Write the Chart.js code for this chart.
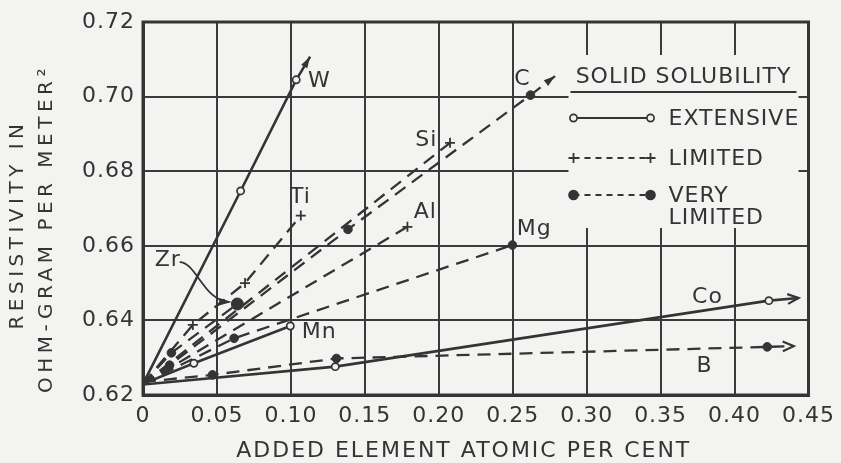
<!DOCTYPE html>
<html>
<head>
<meta charset="utf-8">
<script src="https://cdn.jsdelivr.net/npm/chart.js@4.4.0/dist/chart.umd.min.js"></script>
<style>
    html, body { margin: 0; padding: 0; background: #f3f3f1; }
    #wrap { width: 841px; height: 463px; }
</style>
</head>
<body>
<div id="wrap"><canvas id="chart" width="841" height="463"></canvas></div>
<script>
// Axis ticks
const xTickValues = [0, 0.05, 0.10, 0.15, 0.20, 0.25, 0.30, 0.35, 0.40, 0.45];
const xTickLabels = ['0', '0.05', '0.10', '0.15', '0.20', '0.25', '0.30', '0.35', '0.40', '0.45'];
const yTickValues = [0.62, 0.64, 0.66, 0.68, 0.70, 0.72];
const yTickLabels = ['0.62', '0.64', '0.66', '0.68', '0.70', '0.72'];

// Extensive solid solubility (solid lines, open circles)
const wX = [0, 0.066, 0.1036, 0.113];
const wY = [0.623, 0.6747, 0.7045, 0.7107];
const mnX = [0, 0.0344, 0.0996];
const mnY = [0.623, 0.6285, 0.6385];
const coX = [0, 0.130, 0.4232, 0.4433];
const coY = [0.6228, 0.6276, 0.6453, 0.6460];

// Limited solid solubility (dashed lines, crosses)
const tiX = [0, 0.0337, 0.069, 0.1067];
const tiY = [0.623, 0.6388, 0.650, 0.6681];
const siX = [0, 0.2076];
const siY = [0.623, 0.6876];
const alX = [0, 0.1788];
const alY = [0.623, 0.6651];

// Very limited solid solubility (dashed lines, dots)
const cX = [0, 0.018, 0.1386, 0.262, 0.2786];
const cY = [0.623, 0.628, 0.6644, 0.7004, 0.7055];
const zrX = [0, 0.0192, 0.0638];
const zrY = [0.623, 0.6313, 0.6444];
const mgX = [0, 0.0616, 0.2498];
const mgY = [0.623, 0.6352, 0.6602];
const bX = [0, 0.047, 0.1308, 0.4221, 0.44];
const bY = [0.6235, 0.6254, 0.6298, 0.6329, 0.6331];

// Colours and fonts
const BG = '#f3f3f1';
const INK = '#343434';
const FONT = '"DejaVu Sans", sans-serif';

// Where the element names sit (data units)
const elementTags = {
    W:  [0.1192, 0.7042], C:  [0.2565, 0.7047], Si: [0.1915, 0.6884],
    Ti: [0.1065, 0.6731], Al: [0.1909, 0.6691], Mg: [0.2645, 0.6644],
    Zr: [0.0167, 0.6562], Mn: [0.1192, 0.6369], Co: [0.3817, 0.6463],
    B:  [0.3797, 0.6278]
};

// Curved pointer from the Zr label to its dot (data units)
const zrPointer = [[0.0248, 0.6556], [0.0360, 0.6556], [0.0410, 0.6452], [0.0585, 0.6449]];

const kindStyles = {
    extensive: { dash: [], width: 2.6, style: 'circle', fill: BG, radius: 3.6, pw: 1.7 },
    limited: { dash: [13, 8], width: 2.3, style: 'cross', fill: INK, radius: 5, pw: 1.8 },
    veryLimited: { dash: [13, 8], width: 2.3, style: 'circle', fill: INK, radius: 4.3, pw: 1 }
};

function makeSeries(name, xs, ys, kind, arrow, lastRadius) {
    const s = kindStyles[kind];
    return {
        label: name,
        data: xs.map((x, i) => ({ x: x, y: ys[i] })),
        borderColor: INK,
        borderWidth: s.width,
        borderDash: s.dash,
        tension: 0,
        fill: false,
        pointStyle: s.style,
        pointBackgroundColor: s.fill,
        pointBorderColor: INK,
        pointBorderWidth: s.pw,
        pointRadius: function(c) {
            const n = c.dataset.data.length;
            if (c.dataIndex === 0) return 0;
            if (arrow && c.dataIndex === n - 1) return 0;
            if (lastRadius && c.dataIndex === n - 1) return lastRadius;
            return s.radius;
        },
        arrow: arrow
    };
}

const datasets = [
    makeSeries('W', wX, wY, 'extensive', 'filled'),
    makeSeries('Mn', mnX, mnY, 'extensive'),
    makeSeries('Co', coX, coY, 'extensive', 'open'),
    makeSeries('Ti', tiX, tiY, 'limited'),
    makeSeries('Si', siX, siY, 'limited'),
    makeSeries('Al', alX, alY, 'limited'),
    makeSeries('C', cX, cY, 'veryLimited', 'filled'),
    makeSeries('Zr', zrX, zrY, 'veryLimited', null, 6),
    makeSeries('Mg', mgX, mgY, 'veryLimited'),
    makeSeries('B', bX, bY, 'veryLimited', 'open')
];

// Paper background, and wider lettering for every text
const paperPlugin = {
    id: 'paper',
    beforeDraw(chart) {
        const ctx = chart.ctx;
        ctx.fillStyle = BG;
        ctx.fillRect(0, 0, chart.width, chart.height);
        ctx.letterSpacing = '1px';
    }
};

// Arrowheads at the ends of some curves
const arrowPlugin = {
    id: 'arrows',
    afterDatasetsDraw(chart) {
        const ctx = chart.ctx;
        chart.data.datasets.forEach((ds, i) => {
            if (!ds.arrow) return;
            const pts = chart.getDatasetMeta(i).data;
            const p1 = pts[pts.length - 1];
            const p0 = pts[pts.length - 2];
            const ang = Math.atan2(p1.y - p0.y, p1.x - p0.x);
            const len = 12, spread = ds.arrow === 'filled' ? 0.3 : 0.42;
            ctx.save();
            ctx.strokeStyle = INK;
            ctx.fillStyle = INK;
            ctx.lineWidth = 2.2;
            ctx.beginPath();
            ctx.moveTo(p1.x - len * Math.cos(ang - spread), p1.y - len * Math.sin(ang - spread));
            ctx.lineTo(p1.x, p1.y);
            ctx.lineTo(p1.x - len * Math.cos(ang + spread), p1.y - len * Math.sin(ang + spread));
            if (ds.arrow === 'filled') {
                ctx.closePath();
                ctx.fill();
            } else {
                ctx.stroke();
            }
            ctx.restore();
        });
    }
};

function drawSample(ctx, x0, x1, y, kind) {
    const s = kindStyles[kind];
    ctx.save();
    ctx.strokeStyle = INK;
    ctx.lineWidth = 2.2;
    ctx.setLineDash(kind === 'extensive' ? [] : [6, 5]);
    ctx.beginPath();
    ctx.moveTo(x0, y);
    ctx.lineTo(x1, y);
    ctx.stroke();
    ctx.setLineDash([]);
    [x0, x1].forEach(x => {
        if (kind === 'limited') {
            ctx.lineWidth = 1.8;
            ctx.beginPath();
            ctx.moveTo(x - 5, y); ctx.lineTo(x + 5, y);
            ctx.moveTo(x, y - 5); ctx.lineTo(x, y + 5);
            ctx.stroke();
        } else {
            ctx.beginPath();
            ctx.arc(x, y, kind === 'extensive' ? 3.6 : 4.5, 0, Math.PI * 2);
            ctx.fillStyle = s.fill;
            ctx.fill();
            ctx.lineWidth = 1.7;
            ctx.stroke();
        }
    });
    ctx.restore();
}

// Frame, legend box, element names, axis titles
const decorPlugin = {
    id: 'decor',
    afterDraw(chart) {
        const ctx = chart.ctx;
        const a = chart.chartArea;
        const xs = chart.scales.x, ys = chart.scales.y;
        const px = v => xs.getPixelForValue(v);
        const py = v => ys.getPixelForValue(v);

        ctx.save();
        ctx.letterSpacing = '1px';

        // Legend box hides the grid behind it
        const L = a.right - 240, T = a.top + 33, R = a.right - 10, Bt = a.top + 206;
        ctx.fillStyle = BG;
        ctx.fillRect(L, T, R - L, Bt - T);

        // Plot frame
        ctx.strokeStyle = INK;
        ctx.lineWidth = 3;
        ctx.strokeRect(a.left, a.top, a.right - a.left, a.bottom - a.top);

        // Legend content
        ctx.fillStyle = INK;
        ctx.font = '22px ' + FONT;
        ctx.textBaseline = 'middle';
        ctx.textAlign = 'center';
        ctx.fillText('SOLID SOLUBILITY', a.right - 125, a.top + 55);
        ctx.lineWidth = 1.8;
        ctx.beginPath();
        ctx.moveTo(a.right - 238, a.top + 70);
        ctx.lineTo(a.right - 12, a.top + 70);
        ctx.stroke();

        drawSample(ctx, a.right - 235, a.right - 158, a.top + 96, 'extensive');
        drawSample(ctx, a.right - 235, a.right - 158, a.top + 136, 'limited');
        drawSample(ctx, a.right - 235, a.right - 158, a.top + 173, 'veryLimited');
        ctx.textAlign = 'left';
        ctx.fillStyle = INK;
        ctx.fillText('EXTENSIVE', a.right - 140, a.top + 97);
        ctx.fillText('LIMITED', a.right - 140, a.top + 137);
        ctx.fillText('VERY', a.right - 140, a.top + 174);
        ctx.fillText('LIMITED', a.right - 140, a.top + 196);

        // Element names
        ctx.textAlign = 'center';
        Object.keys(elementTags).forEach(k => {
            const t = elementTags[k];
            ctx.fillText(k, px(t[0]), py(t[1]));
        });

        // Zr pointer
        const z = zrPointer.map(p => [px(p[0]), py(p[1])]);
        ctx.lineWidth = 1.8;
        ctx.beginPath();
        ctx.moveTo(z[0][0], z[0][1]);
        ctx.bezierCurveTo(z[1][0], z[1][1], z[2][0], z[2][1], z[3][0], z[3][1]);
        ctx.stroke();
        const end = z[3], ang = Math.atan2(z[3][1] - z[2][1], z[3][0] - z[2][0]);
        ctx.beginPath();
        ctx.moveTo(end[0] + 2, end[1]);
        ctx.lineTo(end[0] - 11 * Math.cos(ang - 0.35), end[1] - 11 * Math.sin(ang - 0.35));
        ctx.lineTo(end[0] - 11 * Math.cos(ang + 0.35), end[1] - 11 * Math.sin(ang + 0.35));
        ctx.closePath();
        ctx.fill();

        // Axis titles
        ctx.letterSpacing = '2px';
        ctx.font = '22px ' + FONT;
        ctx.fillText('ADDED ELEMENT ATOMIC PER CENT', (a.left + a.right) / 2 - 12, a.bottom + 56);

        ctx.letterSpacing = '4.5px';
        ctx.font = '20px ' + FONT;
        ctx.translate(18, (a.top + a.bottom) / 2 + 16);
        ctx.rotate(-Math.PI / 2);
        ctx.fillText('RESISTIVITY IN', 0, 0);
        ctx.fillText('OHM-GRAM PER METER\u00B2', -4, 29);
        ctx.restore();
    }
};

// Build the chart
const chartCtx = document.getElementById('chart').getContext('2d');
const chart = new Chart(chartCtx, {
    type: 'line',
    data: { datasets: datasets },
    options: {
        responsive: false,
        animation: false,
        events: [],
        layout: { padding: { top: 22, right: 26, left: 0, bottom: 0 } },
        plugins: {
            legend: { display: false },
            tooltip: { enabled: false }
        },
        scales: {
            x: {
                type: 'linear',
                min: 0,
                max: 0.45,
                afterBuildTicks: s => { s.ticks = xTickValues.map(v => ({ value: v })); },
                afterFit: s => { s.height = 68; },
                ticks: {
                    callback: (v, i) => xTickLabels[i],
                    font: { family: FONT, size: 22 },
                    color: INK,
                    padding: 8,
                    maxRotation: 0,
                    autoSkip: false
                },
                grid: { color: '#3a3a3a', lineWidth: 2, drawTicks: false },
                border: { color: INK, width: 3 }
            },
            y: {
                type: 'linear',
                min: 0.62,
                max: 0.72,
                afterBuildTicks: s => { s.ticks = yTickValues.map(v => ({ value: v })); },
                afterFit: s => { s.width = 143; },
                ticks: {
                    callback: (v, i) => yTickLabels[i],
                    font: { family: FONT, size: 22 },
                    color: INK,
                    padding: 8
                },
                grid: { color: '#3a3a3a', lineWidth: 2, drawTicks: false },
                border: { color: INK, width: 3 }
            }
        }
    },
    plugins: [paperPlugin, arrowPlugin, decorPlugin]
});
</script>
</body>
</html>
